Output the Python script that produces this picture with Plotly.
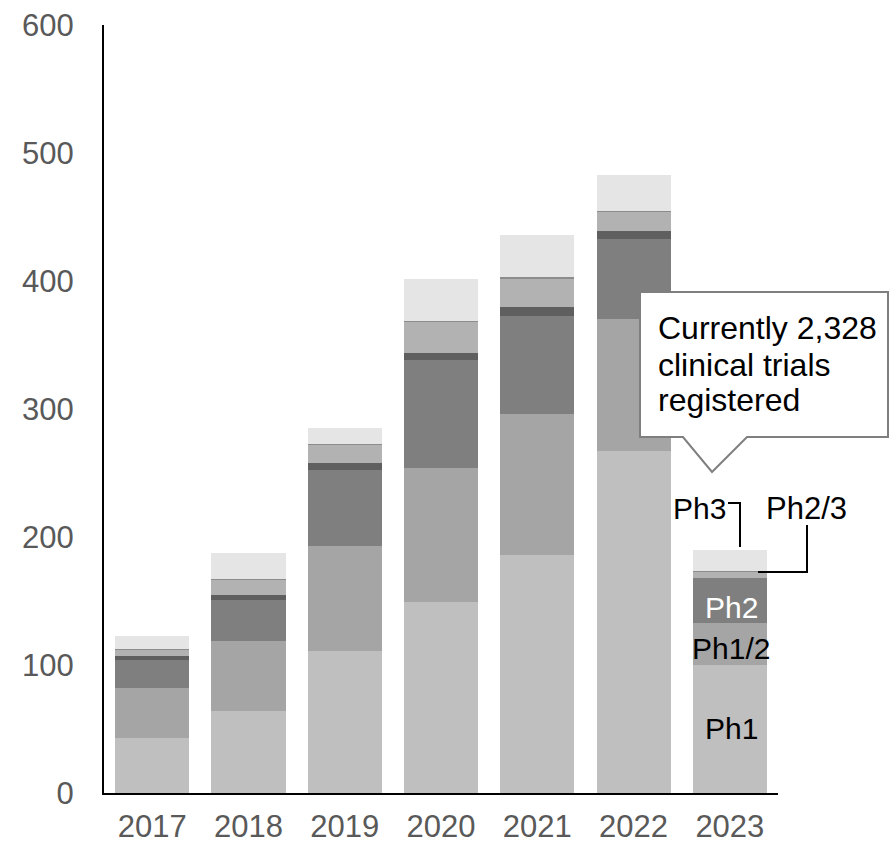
import plotly.graph_objects as go

years = ["2017", "2018", "2019", "2020", "2021", "2022", "2023"]
ph1 = [43, 64, 111, 149, 186, 267, 100]
ph1_2 = [39, 55, 82, 105, 110, 103, 33]
ph2 = [22, 32, 59, 84, 77, 63, 35]
other = [3, 4, 6, 6, 7, 6, 0]
ph2_3 = [5, 11.5, 14, 24, 22, 15, 5]
sep = [0.8, 0.8, 0.8, 0.8, 0.8, 0.8, 0.8]
ph3 = [10, 20, 12, 33, 33, 28, 16]

series = [
    ("Ph1", ph1, "#bfbfbf"),
    ("Ph1/2", ph1_2, "#a5a5a5"),
    ("Ph2", ph2, "#7f7f7f"),
    ("Other", other, "#5f5f5f"),
    ("Ph2/3", ph2_3, "#b2b2b2"),
    ("Sep", sep, "#8c8c8c"),
    ("Ph3", ph3, "#e5e5e5"),
]

fig = go.Figure()
for name, vals, col in series:
    fig.add_trace(go.Bar(x=years, y=vals, name=name, marker_color=col,
                         marker_line_width=0, hoverinfo="x+y+name"))

W, H = 892, 844
L, R, T, B = 104, 114, 25, 51
PW, PH = W - L - R, H - T - B


def px(x):
    return (x - L) / PW


def py(y):
    return (H - B - y) / PH


FONT = "Liberation Sans, Arial, sans-serif"

# callout box
pts = [(640, 292), (888, 292), (888, 437), (747, 437), (712, 472), (683, 437), (640, 437)]
path = "M " + " L ".join(f"{px(a):.5f},{py(b):.5f}" for a, b in pts) + " Z"
fig.add_shape(type="path", path=path, xref="paper", yref="paper",
              fillcolor="white", line=dict(color="#7f7f7f", width=2), layer="above")

ann = []
for txt, y in [("Currently 2,328", 328), ("clinical trials", 365), ("registered", 400)]:
    ann.append(dict(text=txt, x=px(656), y=py(y), xanchor="left", yanchor="middle",
                    font=dict(size=32, color="black", family=FONT)))

ann.append(dict(text="Ph3", x=px(699), y=py(508), xanchor="center", yanchor="middle",
                font=dict(size=30, color="black", family=FONT)))
ann.append(dict(text="Ph2/3", x=px(806), y=py(508), xanchor="center", yanchor="middle",
                font=dict(size=31, color="black", family=FONT)))
ann.append(dict(text="Ph2", x=px(731), y=py(607), xanchor="center", yanchor="middle",
                font=dict(size=30, color="white", family=FONT)))
ann.append(dict(text="Ph1/2", x=px(731), y=py(648), xanchor="center", yanchor="middle",
                font=dict(size=30, color="black", family=FONT)))
ann.append(dict(text="Ph1", x=px(731), y=py(728), xanchor="center", yanchor="middle",
                font=dict(size=30, color="black", family=FONT)))
for a in ann:
    a.update(xref="paper", yref="paper", showarrow=False)

# connectors
for seg in [[(728, 503), (740, 503), (740, 547)], [(807, 525), (807, 572), (758, 572)]]:
    p = "M " + " L ".join(f"{px(a):.5f},{py(b):.5f}" for a, b in seg)
    fig.add_shape(type="path", path=p, xref="paper", yref="paper",
                  line=dict(color="black", width=2))

fig.update_layout(
    width=W, height=H, barmode="stack", bargap=0.23,
    margin=dict(l=L, r=R, t=T, b=B, autoexpand=False),
    paper_bgcolor="white", plot_bgcolor="white",
    showlegend=False, annotations=ann,
    font=dict(family=FONT, size=31, color="#595959"),
)
fig.update_xaxes(showline=True, linecolor="black", linewidth=2, ticks="",
                 tickfont=dict(size=31, color="#595959"), showgrid=False,
                 ticklabelstandoff=5, automargin=False)
fig.update_yaxes(range=[0, 600], dtick=100, showline=True, linecolor="black", linewidth=2,
                 ticks="", showgrid=False, zeroline=False, ticklabelstandoff=22,
                 tickfont=dict(size=31, color="#595959"), automargin=False)

fig.write_html("out.html")
